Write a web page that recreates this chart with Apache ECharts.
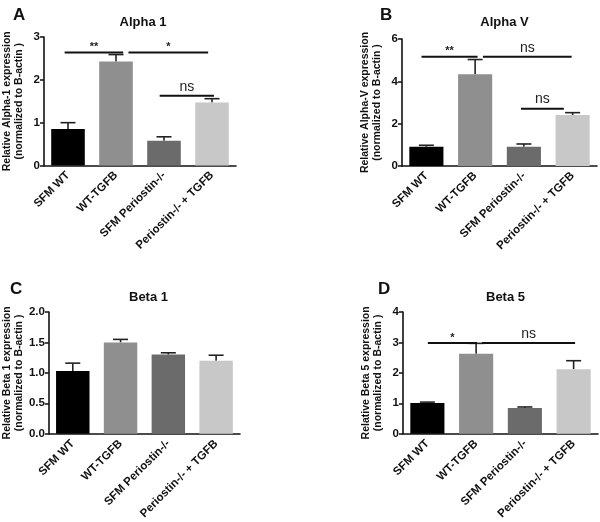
<!DOCTYPE html>
<html>
<head>
<meta charset="utf-8">
<script src="https://cdn.jsdelivr.net/npm/echarts@6/dist/echarts.min.js"></script>
<style>html,body{margin:0;padding:0;background:#fff;}#c{width:600px;height:522px;}</style>
</head>
<body>
<div id="c"></div>
<script>
// ---- data ----
const categories = ['SFM WT', 'WT-TGFB', 'SFM Periostin-/-', 'Periostin-/- + TGFB'];

const alpha1Means = [0.85, 2.43, 0.58, 1.47];
const alpha1Sem   = [0.15, 0.16, 0.09, 0.09];
const alphaVMeans = [0.91, 4.34, 0.91, 2.41];
const alphaVSem   = [0.07, 0.69, 0.13, 0.11];
const beta1Means  = [1.03, 1.50, 1.30, 1.20];
const beta1Sem    = [0.13, 0.05, 0.03, 0.09];
const beta5Means  = [1.01, 2.63, 0.85, 2.12];
const beta5Sem    = [0.03, 0.34, 0.03, 0.28];

// significance brackets: [from (category units), to, level, label]
const alpha1Sig = [[-0.07, 1.15, 2.64, '**'], [1.26, 2.92, 2.64, '*'], [1.91, 3.04, 1.63, 'ns']];
const alphaVSig = [[-0.10, 1.05, 5.16, '**'], [1.16, 2.98, 5.16, 'ns'], [1.94, 2.82, 2.71, 'ns']];
const beta1Sig  = [];
const beta5Sig  = [[0.01, 1.02, 2.98, '*'], [1.12, 3.03, 2.98, 'ns']];

const titles = ['Alpha 1', 'Alpha V', 'Beta 1', 'Beta 5'];
const letters = ['A', 'B', 'C', 'D'];
const yNames = [
  'Relative Alpha-1 expression\n(normalized to B-actin )',
  'Relative Alpha-V expression\n(normalized to B-actin )',
  'Relative Beta 1 expression\n(normalized to B-actin )',
  'Relative Beta 5 expression\n(normalized to B-actin )'
];
const yMax = [3, 6, 2, 4];
const yInterval = [1, 2, 0.5, 1];

// ---- styling / layout ----
const barColors = ['#000000', '#8f8f8f', '#6b6b6b', '#c8c8c8'];
const panels = [
  {means: alpha1Means, sem: alpha1Sem, sig: alpha1Sig, grid: {left: 40, top: 37, width: 196, height: 128.5}, decimals: 0, letterPos: [8, 2], titleY: 11},
  {means: alphaVMeans, sem: alphaVSem, sig: alphaVSig, grid: {left: 402, top: 39, width: 195, height: 127}, decimals: 0, letterPos: [375, 2], titleY: 11},
  {means: beta1Means, sem: beta1Sem, sig: beta1Sig, grid: {left: 47, top: 312, width: 193, height: 128}, decimals: 1, letterPos: [5, 276], titleY: 286},
  {means: beta5Means, sem: beta5Sem, sig: beta5Sig, grid: {left: 403, top: 312, width: 195, height: 128}, decimals: 0, letterPos: [373, 276], titleY: 286}
];
const FONT = 'Liberation Sans, Arial, sans-serif';

const option = {
  animation: false,
  backgroundColor: '#fff',
  title: [],
  grid: [],
  xAxis: [],
  yAxis: [],
  series: []
};

panels.forEach((p, i) => {
  option.grid.push(Object.assign({containLabel: false}, p.grid));
  option.title.push({
    text: titles[i],
    left: p.grid.left + p.grid.width / 2,
    top: p.titleY,
    textAlign: 'center',
    textStyle: {fontFamily: FONT, fontWeight: 'bold', fontSize: 13, color: '#111'}
  });
  option.title.push({
    text: letters[i],
    left: p.letterPos[0],
    top: p.letterPos[1],
    textStyle: {fontFamily: FONT, fontWeight: 'bold', fontSize: 17, color: '#111'}
  });
  const catIdx = option.xAxis.length;
  option.xAxis.push({
    type: 'category',
    gridIndex: i,
    data: categories,
    axisLine: {onZero: false, lineStyle: {color: '#111', width: 1.6}},
    axisTick: {alignWithLabel: true, length: 4, lineStyle: {color: '#111', width: 1.5}},
    axisLabel: {rotate: 45, margin: 8, interval: 0, fontFamily: FONT, fontWeight: 'bold', fontSize: 11.5, color: '#111'}
  });
  const valIdx = option.xAxis.length;
  option.xAxis.push({
    type: 'value', gridIndex: i, min: -0.5, max: 3.5, show: false,
    axisLine: {onZero: false}
  });
  const yIdx = option.yAxis.length;
  option.yAxis.push({
    type: 'value',
    gridIndex: i,
    min: 0,
    max: yMax[i],
    interval: yInterval[i],
    name: yNames[i],
    nameLocation: 'middle',
    nameGap: 19,
    nameTextStyle: {fontFamily: FONT, fontWeight: 'bold', fontSize: 10.5, color: '#111', lineHeight: 12},
    splitLine: {show: false},
    axisLine: {show: true, onZero: false, lineStyle: {color: '#111', width: 1.6}},
    axisTick: {show: true, length: 4, lineStyle: {color: '#111', width: 1.5}},
    axisLabel: {margin: 4, fontFamily: FONT, fontWeight: 'bold', fontSize: 11.5, color: '#111',
      formatter: v => v.toFixed(p.decimals)}
  });
  option.series.push({
    type: 'bar',
    xAxisIndex: catIdx,
    yAxisIndex: yIdx,
    barWidth: '70%',
    data: p.means.map((v, k) => ({value: v, itemStyle: {color: barColors[k]}}))
  });
  // error bars (upper only)
  option.series.push({
    type: 'custom',
    xAxisIndex: catIdx,
    yAxisIndex: yIdx,
    z: 1,
    data: p.means.map((v, k) => [k, v, v + p.sem[k]]),
    renderItem: (params, api) => {
      const a = api.coord([api.value(0), api.value(1)]);
      const b = api.coord([api.value(0), api.value(2)]);
      const hw = 7.5;
      const st = {stroke: '#222', lineWidth: 1.6};
      return {type: 'group', children: [
        {type: 'line', shape: {x1: a[0], y1: a[1], x2: b[0], y2: b[1]}, style: st},
        {type: 'line', shape: {x1: b[0] - hw, y1: b[1], x2: b[0] + hw, y2: b[1]}, style: st}
      ]};
    }
  });
  // significance brackets
  if (p.sig.length) {
    option.series.push({
      type: 'custom',
      xAxisIndex: valIdx,
      yAxisIndex: yIdx,
      z: 3,
      data: p.sig.map(s => [s[0], s[1], s[2]]),
      renderItem: (params, api) => {
        const s = p.sig[params.dataIndex];
        const a = api.coord([api.value(0), api.value(2)]);
        const b = api.coord([api.value(1), api.value(2)]);
        const isNs = s[3] === 'ns';
        return {type: 'group', children: [
          {type: 'line', shape: {x1: a[0], y1: a[1], x2: b[0], y2: b[1]}, style: {stroke: '#111', lineWidth: 2}},
          {type: 'text', x: (a[0] + b[0]) / 2, y: a[1] - (isNs ? 2 : 0),
            style: {text: s[3], textAlign: 'center', textVerticalAlign: 'bottom',
              font: (isNs ? 'normal 14px ' : 'bold 11px ') + FONT, fill: '#222'}}
        ]};
      }
    });
  }
});

const chart = echarts.init(document.getElementById('c'), null, {renderer: 'canvas'});
chart.setOption(option);
</script>
</body>
</html>
